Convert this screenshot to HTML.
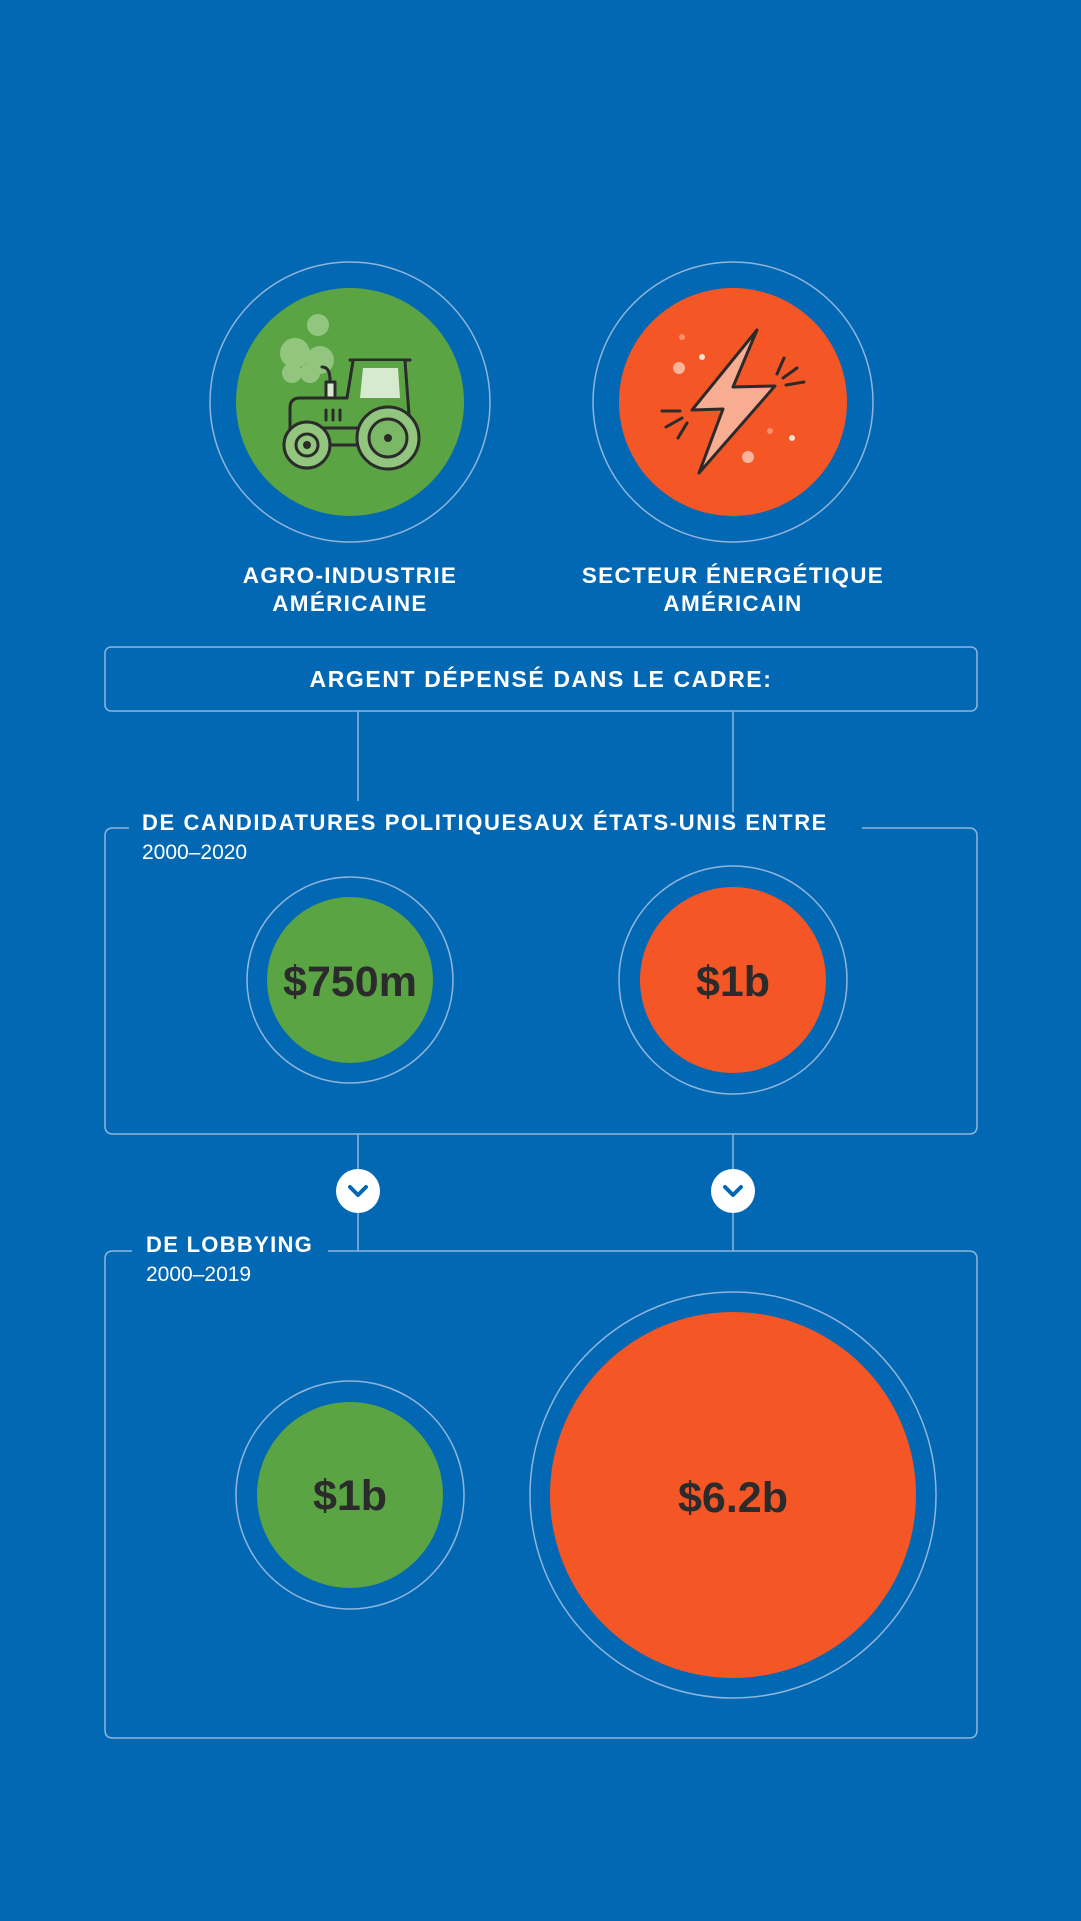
<!DOCTYPE html>
<html><head><meta charset="utf-8"><style>
html,body{margin:0;padding:0;background:#0268b3;}
body{width:1081px;height:1921px;overflow:hidden;}
svg{display:block}
text{font-family:"Liberation Sans",sans-serif;}
</style></head><body>
<svg width="1081" height="1921" viewBox="0 0 1081 1921">
<rect width="1081" height="1921" fill="#0268b3"/>
<g fill="none" stroke="#8fb5dc" stroke-width="1.5">
<circle cx="350" cy="402" r="140"/>
<circle cx="733" cy="402" r="140"/>
<rect x="105" y="647" width="872" height="64" rx="6"/>
<line x1="358" y1="711" x2="358" y2="801"/>
<line x1="733" y1="711" x2="733" y2="812"/>
<path d="M129 828 H113 Q105 828 105 836 V1126 Q105 1134 113 1134 H969 Q977 1134 977 1126 V836 Q977 828 969 828 H862"/>
<circle cx="350" cy="980" r="103"/>
<circle cx="733" cy="980" r="114"/>
<line x1="358" y1="1134" x2="358" y2="1251"/>
<line x1="733" y1="1134" x2="733" y2="1251"/>
<path d="M132 1251 H113 Q105 1251 105 1259 V1730 Q105 1738 113 1738 H969 Q977 1738 977 1730 V1259 Q977 1251 969 1251 H328"/>
<circle cx="350" cy="1495" r="114"/>
<circle cx="733" cy="1495" r="203"/>
</g>
<circle cx="350" cy="402" r="114" fill="#5ba443"/>
<circle cx="733" cy="402" r="114" fill="#f45625"/>
<g fill="#92c67f"><circle cx="318" cy="325" r="11"/><circle cx="295" cy="353" r="15"/><circle cx="320" cy="360" r="14"/><circle cx="292" cy="373" r="10"/><circle cx="310" cy="373" r="10"/></g>
<g stroke="#2b2b2b" stroke-width="3" stroke-linecap="round" stroke-linejoin="round">
<path d="M350 360 H410" fill="none"/>
<path d="M353 361 L347 398 H300 Q290 398 290 408 V428 L410 428 L405 361" fill="#5ba443"/>
<polygon points="363,368 398,368 400,398 360,398" fill="#d6ead0" stroke="none"/>
<rect x="326" y="382" width="9" height="16" fill="#d6ead0"/>
<path d="M322 367 Q330 367 330 380" fill="none"/>
<line x1="326" y1="410" x2="326" y2="420"/><line x1="333" y1="410" x2="333" y2="420"/><line x1="340" y1="410" x2="340" y2="420"/>
<line x1="328" y1="445" x2="360" y2="445"/>
<circle cx="307" cy="445" r="23" fill="#92c67f"/>
<circle cx="307" cy="445" r="11" fill="#92c67f"/>
<circle cx="388" cy="438" r="31" fill="#92c67f"/>
<circle cx="388" cy="438" r="19" fill="#7ab866"/>
</g>
<circle cx="307" cy="445" r="4" fill="#2b2b2b"/><circle cx="388" cy="438" r="4" fill="#2b2b2b"/>
<g fill="#fbb49c"><circle cx="682" cy="337" r="3" fill="#fa8f6d"/><circle cx="702" cy="357" r="3" fill="#fde0d4"/><circle cx="679" cy="368" r="6"/><circle cx="770" cy="431" r="3" fill="#fa8f6d"/><circle cx="792" cy="438" r="3" fill="#fde0d4"/><circle cx="748" cy="457" r="6"/></g>
<g stroke="#2b2b2b" stroke-width="3" stroke-linecap="round" stroke-linejoin="round">
<polygon points="757,330 733,387 775,386 699,473 723,409 692,410" fill="#f8ad93"/>
<line x1="662" y1="411" x2="680" y2="411"/><line x1="666" y1="427" x2="682" y2="418"/><line x1="678" y1="438" x2="687" y2="423"/>
<line x1="777" y1="374" x2="784" y2="358"/><line x1="783" y1="378" x2="797" y2="368"/><line x1="786" y1="385" x2="804" y2="382"/>
</g>
<g fill="#fff" font-weight="bold" font-size="22.5" text-anchor="middle" letter-spacing="1.3">
<text x="350" y="583">AGRO-INDUSTRIE</text><text x="350" y="611">AMÉRICAINE</text>
<text x="733" y="583">SECTEUR ÉNERGÉTIQUE</text><text x="733" y="611">AMÉRICAIN</text>
<text x="541" y="687" font-size="23" letter-spacing="1.6">ARGENT DÉPENSÉ DANS LE CADRE:</text>
</g>
<g fill="#fff">
<text x="142" y="830" font-weight="bold" font-size="22" letter-spacing="1.6">DE CANDIDATURES POLITIQUESAUX ÉTATS-UNIS ENTRE</text>
<text x="142" y="859" font-size="21">2000–2020</text>
<text x="146" y="1252" font-weight="bold" font-size="22" letter-spacing="1.3">DE LOBBYING</text>
<text x="146" y="1281" font-size="21">2000–2019</text>
</g>
<circle cx="350" cy="980" r="83" fill="#5ba443"/>
<circle cx="733" cy="980" r="93" fill="#f45625"/>
<circle cx="350" cy="1495" r="93" fill="#5ba443"/>
<circle cx="733" cy="1495" r="183" fill="#f45625"/>
<circle cx="358" cy="1191" r="22" fill="#fff"/>
<circle cx="733" cy="1191" r="22" fill="#fff"/>
<g fill="none" stroke="#0268b3" stroke-width="4" stroke-linecap="round" stroke-linejoin="round">
<path d="M350 1187 L358 1195 L366 1187"/><path d="M725 1187 L733 1195 L741 1187"/>
</g>
<g fill="#2b2b2b" font-weight="bold" font-size="43" text-anchor="middle">
<text x="350" y="996">$750m</text><text x="733" y="996">$1b</text>
<text x="350" y="1510">$1b</text><text x="733" y="1512">$6.2b</text>
</g>
</svg>
</body></html>
